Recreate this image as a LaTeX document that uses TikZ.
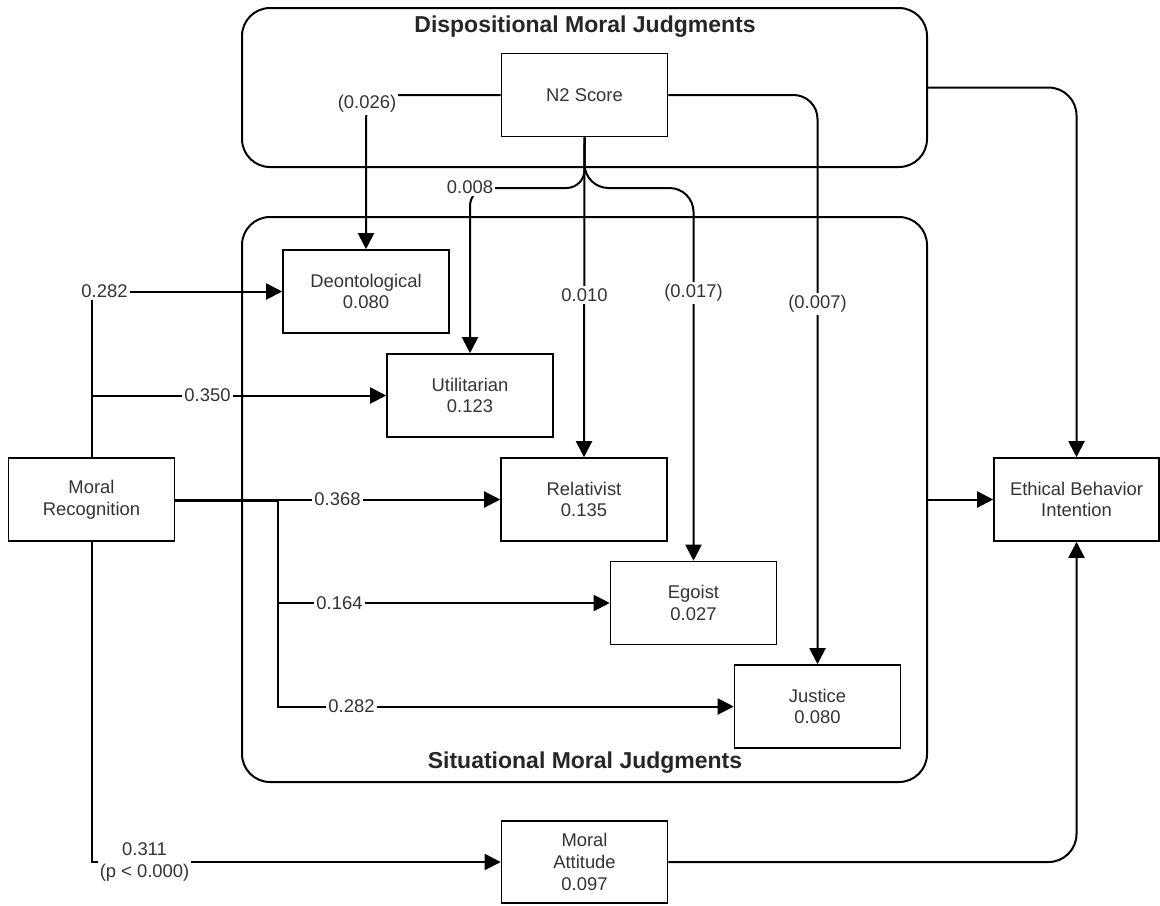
\documentclass[tikz,border=0pt]{standalone}
\usepackage{fontspec}
\setmainfont{Liberation Sans}
\usetikzlibrary{arrows.meta}
\definecolor{ink}{HTML}{333333}
\begin{document}
\begin{tikzpicture}[x=0.5pt,y=-0.5pt,
  box/.style={draw=black, line width=0.8pt, minimum width=83pt, minimum height=41.5pt,
    inner sep=1pt, align=center, text=ink, font=\fontsize{9.2}{10.8}\selectfont},
  group/.style={draw=black, line width=1pt, rounded corners=14pt, inner sep=0pt},
  heading/.style={font=\fontsize{11.5}{13}\selectfont\bfseries, text=black!85, inner sep=0pt},
  conn/.style={draw=black, line width=1pt, -{Triangle[length=8pt,width=8pt]}},
  coef/.style={fill=white, inner sep=1pt, text=ink, align=center,
    font=\fontsize{9.2}{10.8}\selectfont}]

\useasboundingbox (0,0) rectangle (1160,905);

% construct groups
\node[group, minimum width=342.5pt, minimum height=79.5pt] (disp) at (584.5,87.5) {};
\node[group, minimum width=342.5pt, minimum height=282.5pt] (sit) at (584.5,499.5) {};
\node[heading] (disptitle) at (585,27) {Dispositional Moral Judgments};
\node[heading] (sittitle) at (585,763) {Situational Moral Judgments};

% variables
\node[box] (n2)   at (584.5,95)    {N2 Score};
\node[box] (deon) at (366,291.5)   {Deontological\\0.080};
\node[box] (util) at (470,395.5)   {Utilitarian\\0.123};
\node[box] (rel)  at (584,499.5)   {Relativist\\0.135};
\node[box] (ego)  at (693.5,603)   {Egoist\\0.027};
\node[box] (just) at (817.5,706.5) {Justice\\0.080};
\node[box] (mr)   at (91.5,499.5)  {Moral\\Recognition};
\node[box, minimum width=82.5pt] (ebi) at (1076.5,499.5) {Ethical Behavior\\Intention};
\node[box, minimum height=41pt] (ma) at (584.5,862) {Moral\\Attitude\\0.097};

% paths from moral recognition
\draw[conn] (mr.north) |- (deon.west);
\draw[conn] (mr.north |- util.west) -- (util.west);
\draw[conn] (mr.east) -- (rel.west);
\draw[conn] ([yshift=-0.6pt]mr.east) -- ++(103,0) |- (ego.west);
\draw[conn] ([yshift=-0.6pt]mr.east) -- ++(103,0) |- (just.west);
\draw[conn] (mr.south) |- (ma.west);

% paths from the N2 score
\coordinate (fork) at (584.5,188);
\draw[conn, rounded corners=12pt] (n2.west) -| (deon.north);
\draw[conn, rounded corners=9pt] (n2.south) -- (fork) -- (fork -| util.north) -- (util.north);
\draw[conn] (n2.south) -- (rel.north);
\draw[conn, rounded corners=12pt] (n2.south) -- (fork) -- (fork -| ego.north) -- (ego.north);
\draw[conn, rounded corners=12pt] (n2.east) -| (just.north);

% paths into ethical behavior intention
\draw[conn, rounded corners=14pt] (disp.east) -| (ebi.north);
\draw[conn] (sit.east) -- (ebi.west);
\draw[conn, rounded corners=14pt] (ma.east) -| (ebi.south);

% path coefficients
\node[coef] (c1)  at (104.5,291)  {0.282};
\node[coef] (c2)  at (207.5,395.5) {0.350};
\node[coef] (c3)  at (337.5,499.5) {0.368};
\node[coef] (c4)  at (339.5,603)  {0.164};
\node[coef] (c5)  at (351.5,706)  {0.282};
\node[coef] (c6)  at (144.5,862)  {0.311\\(p < 0.000)};
\node[coef] (c7)  at (367,104)    {(0.026)};
\node[coef] (c8)  at (470,187)    {0.008};
\node[coef] (c9)  at (584.5,295)  {0.010};
\node[coef] (c10) at (693.5,293)  {(0.017)};
\node[coef] (c11) at (817.5,304)  {(0.007)};

\end{tikzpicture}
\end{document}
